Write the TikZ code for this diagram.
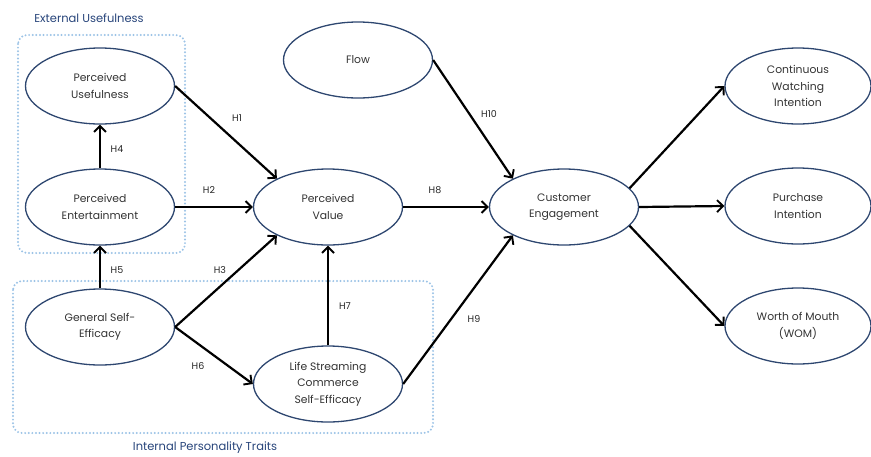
\documentclass[tikz,border=0pt]{standalone}
\usepackage{fontspec}
\setmainfont{Poppins}
\usetikzlibrary{shapes.geometric,arrows.meta}
\definecolor{navy}{HTML}{2E4770}
\definecolor{grptxt}{HTML}{27447A}
\definecolor{dotblue}{HTML}{9CC3E6}
\definecolor{txtgray}{HTML}{333333}
\tikzset{
  construct/.style={ellipse, draw=navy, line width=1.3pt, minimum width=149pt, minimum height=76pt,
    inner sep=0pt, align=center, text=txtgray, font=\fontsize{10.8}{16.5}\selectfont},
  path arrow/.style={line width=2.2pt, -{Straight Barb[length=6pt,width=12pt,line width=1.9pt]}},
  hyp/.style={font=\fontsize{9.5}{11}\selectfont, text=black!85},
  groupbox/.style={draw=dotblue, line width=2.2pt, dash pattern=on 0pt off 3.6pt, line cap=round, rounded corners=9pt},
  grouplabel/.style={font=\fontsize{11.5}{13}\selectfont, text=grptxt}
}
\begin{document}
\begin{tikzpicture}[x=1pt,y=-1pt]
\useasboundingbox (0,0) rectangle (871,456);
% group boxes
\draw[groupbox] (18,35) rectangle (185,253);
\draw[groupbox] (13,281) rectangle (433,433);
\node[grouplabel] (extlab) at (89,18) {External Usefulness};
\node[grouplabel] (intlab) at (205,448) {Internal Personality Traits};
% constructs
\node[construct] (pu) at (100,86) {Perceived\\Usefulness};
\node[construct] (pe) at (100,207) {Perceived\\Entertainment};
\node[construct] (gse) at (100,327) {General Self-\\Efficacy};
\node[construct] (lsc) at (328,384) {Life Streaming\\Commerce\\Self-Efficacy};
\node[construct] (pv) at (328,207) {Perceived\\Value};
\node[construct] (flow) at (358,60) {Flow};
\node[construct] (ce) at (564,207) {Customer\\Engagement};
\node[construct, minimum width=146pt] (cwi) at (798,86) {Continuous\\Watching\\Intention};
\node[construct, minimum width=146pt] (pi) at (798,206) {Purchase\\Intention};
\node[construct, minimum width=146pt] (wom) at (798,326) {Worth of Mouth\\(WOM)};
% paths
\draw[path arrow] (pu.east) -- (pv.151);
\draw[path arrow] (pe.east) -- (pv.west);
\draw[path arrow] (pe.north) -- (pu.south);
\draw[path arrow] (gse.north) -- (pe.south);
\draw[path arrow] (gse.east) -- (pv.209);
\draw[path arrow] (gse.east) -- (lsc.west);
\draw[path arrow] (lsc.north) -- (pv.south);
\draw[path arrow] (lsc.east) -- (ce.209);
\draw[path arrow] (pv.east) -- (ce.west);
\draw[path arrow] (flow.east) -- (ce.151);
\draw[path arrow] (ce.16) -- (cwi.west);
\draw[path arrow] (ce.east) -- (pi.west);
\draw[path arrow] (ce.-16) -- (wom.west);
% hypothesis labels
\node[hyp] (h1) at (237,118) {H1};
\node[hyp] (h2) at (209,190) {H2};
\node[hyp] (h3) at (220,270) {H3};
\node[hyp] (h4) at (117,149) {H4};
\node[hyp] (h5) at (117,270) {H5};
\node[hyp] (h6) at (198,366) {H6};
\node[hyp] (h7) at (345,306) {H7};
\node[hyp] (h8) at (435,190) {H8};
\node[hyp] (h9) at (474,319) {H9};
\node[hyp] (h10) at (489,114) {H10};
\end{tikzpicture}
\end{document}
